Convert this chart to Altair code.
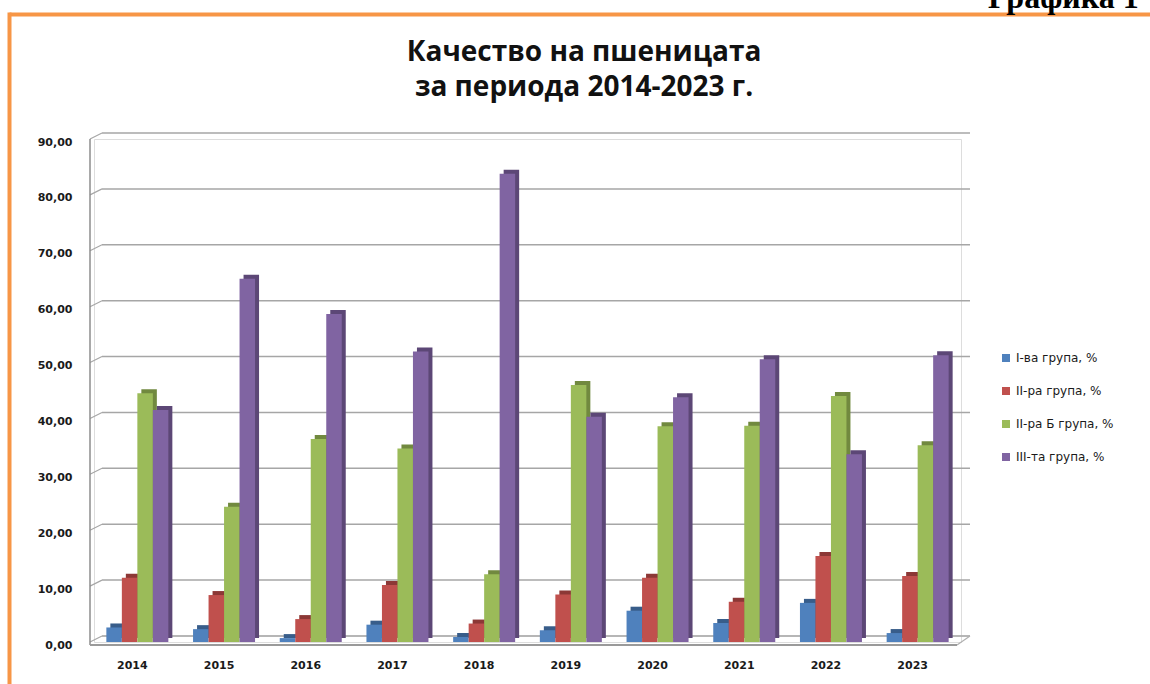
import altair as alt
import pandas as pd

years = ["2014", "2015", "2016", "2017", "2018", "2019", "2020", "2021", "2022", "2023"]
series = ["I-ва група, %", "II-ра група, %", "II-ра Б група, %", "III-та група, %"]
grp1 = [2.6, 2.3, 0.7, 3.1, 0.9, 2.1, 5.6, 3.4, 7.0, 1.6]
grp2 = [11.5, 8.4, 4.1, 10.2, 3.3, 8.5, 11.5, 7.2, 15.4, 11.8]
grp2b = [44.5, 24.2, 36.3, 34.6, 12.1, 46.0, 38.6, 38.7, 44.0, 35.2]
grp3 = [41.5, 65.0, 58.7, 52.0, 83.8, 40.3, 43.8, 50.6, 33.6, 51.3]
face_colors = ["#4F81BD", "#C0504D", "#9BBB59", "#8064A2"]
side_colors = ["#385D8A", "#8C3836", "#71893F", "#5C4776"]
y_ticks = [0, 10, 20, 30, 40, 50, 60, 70, 80, 90]

title_lines = ["Качество на пшеницата", "за периода 2014-2023 г."]
corner_label = "Графика 1"

rows = []
for vals, s in zip([grp1, grp2, grp2b, grp3], series):
    for y, v in zip(years, vals):
        rows.append({"year": y, "series": s, "value": v})
df = pd.DataFrame(rows)
ticks_df = pd.DataFrame({"v": y_ticks})
zero_df = pd.DataFrame({"v": [0]})
top_df = pd.DataFrame({"v": [0], "t": [90]})

W, H = 867, 503
BAR_W = 15.5
DEPTH = 4
yscale = alt.Scale(domain=[0, 90], nice=False)
xscale = alt.Scale(domain=years, paddingInner=0.285, paddingOuter=0.1425)

x_enc = alt.X("year:N", scale=xscale, sort=years,
              axis=alt.Axis(title=None, domain=False, ticks=False, labelAngle=0,
                            labelPadding=17, labelOffset=-5, labelFont="DejaVu Sans",
                            labelFontSize=11, labelColor="#1a1a1a", labelFontWeight="bold"))
y_axis = alt.Axis(title=None, domain=False, ticks=False, grid=False, values=y_ticks,
                  labelExpr="replace(format(datum.value, '.2f'), '.', ',')",
                  labelPadding=22, labelOffset=3, labelFont="DejaVu Sans",
                  labelFontSize=11, labelColor="#1a1a1a", labelFontWeight="bold")

color_legend = alt.Color(
    "series:N", scale=alt.Scale(domain=series, range=face_colors),
    legend=alt.Legend(title=None, orient="none", legendX=906, legendY=213,
                      symbolType="square", symbolSize=64, symbolStrokeWidth=0,
                      labelFont="DejaVu Sans", labelFontSize=12,
                      labelColor="#1a1a1a", rowPadding=21, labelOffset=4))

base = alt.Chart(df)
side_layers = []
face_layers = []
for i, s in enumerate(series):
    off = (i - 1.5) * BAR_W
    side_layers.append(
        base.transform_filter(alt.datum.series == s).mark_bar(
            width=BAR_W, xOffset=off + DEPTH, yOffset=-DEPTH, y2Offset=-1,
            color=side_colors[i]).encode(
            x=x_enc, y=alt.Y("value:Q", scale=yscale, axis=y_axis))
    )
    face_layers.append(
        base.transform_filter(alt.datum.series == s).mark_bar(
            width=BAR_W, xOffset=off).encode(
            x=x_enc, y=alt.Y("value:Q", scale=yscale, axis=y_axis),
            color=color_legend)
    )

grid = alt.Chart(ticks_df).mark_rule(color="#a6a6a6", strokeWidth=1.5, yOffset=-6).encode(
    y=alt.Y("v:Q", scale=yscale), x=alt.value(8), x2=alt.value(876))
conn = alt.Chart(ticks_df).mark_rule(color="#a6a6a6", strokeWidth=1.2, y2Offset=-6).encode(
    y=alt.Y("v:Q", scale=yscale), y2="v:Q", x=alt.value(-4), x2=alt.value(8))
wall = alt.Chart(top_df).mark_rule(color="#8c8c8c", strokeWidth=1.5, yOffset=3).encode(
    y=alt.Y("v:Q", scale=yscale), y2="t:Q", x=alt.value(-4))
floor_front = alt.Chart(zero_df).mark_rule(color="#9a9a9a", strokeWidth=2, yOffset=3).encode(
    y=alt.Y("v:Q", scale=yscale), x=alt.value(-4), x2=alt.value(863))
floor_back = alt.Chart(zero_df).mark_rule(color="#b0b0b0", strokeWidth=1.2, yOffset=-6).encode(
    y=alt.Y("v:Q", scale=yscale), x=alt.value(8), x2=alt.value(876))
floor_side = alt.Chart(zero_df).mark_rule(color="#b0b0b0", strokeWidth=1.2, yOffset=3, y2Offset=-6).encode(
    y=alt.Y("v:Q", scale=yscale), y2="v:Q", x=alt.value(863), x2=alt.value(876))

frame_top = alt.Chart(zero_df).mark_rule(color="#F79646", strokeWidth=4).encode(
    x=alt.value(-84.5), x2=alt.value(1060), y=alt.value(-124.5))
frame_left = alt.Chart(zero_df).mark_rule(color="#F79646", strokeWidth=4).encode(
    x=alt.value(-84.5), y=alt.value(-126.5), y2=alt.value(560))

title1 = alt.Chart(zero_df).mark_text(text=title_lines[0], font="Open Sans", fontWeight="bold",
                                      fontSize=28, align="center", baseline="alphabetic", color="#111111").encode(
    x=alt.value(490), y=alt.value(-78))
title2 = alt.Chart(zero_df).mark_text(text=title_lines[1], font="Open Sans", fontWeight="bold",
                                      fontSize=28, align="center", baseline="alphabetic", color="#111111").encode(
    x=alt.value(490), y=alt.value(-43))
corner = alt.Chart(zero_df).mark_text(text=corner_label, font="Liberation Serif", fontWeight="bold",
                                      fontSize=32, align="left", baseline="alphabetic", color="#000000").encode(
    x=alt.value(894), y=alt.value(-131))

chart = alt.layer(
    frame_top, frame_left, title1, title2, corner,
    grid, conn, wall, floor_back, floor_side, floor_front,
    *side_layers, *face_layers,
).properties(
    width=W, height=H,
    autosize=alt.AutoSizeParams(type="none"),
    padding={"left": 94, "top": 139, "right": 1150 - 94 - W, "bottom": 684 - 139 - H},
).configure_view(stroke=None).configure(background="white")

chart.save("out.html", embed_options={"renderer": "svg", "actions": False})
